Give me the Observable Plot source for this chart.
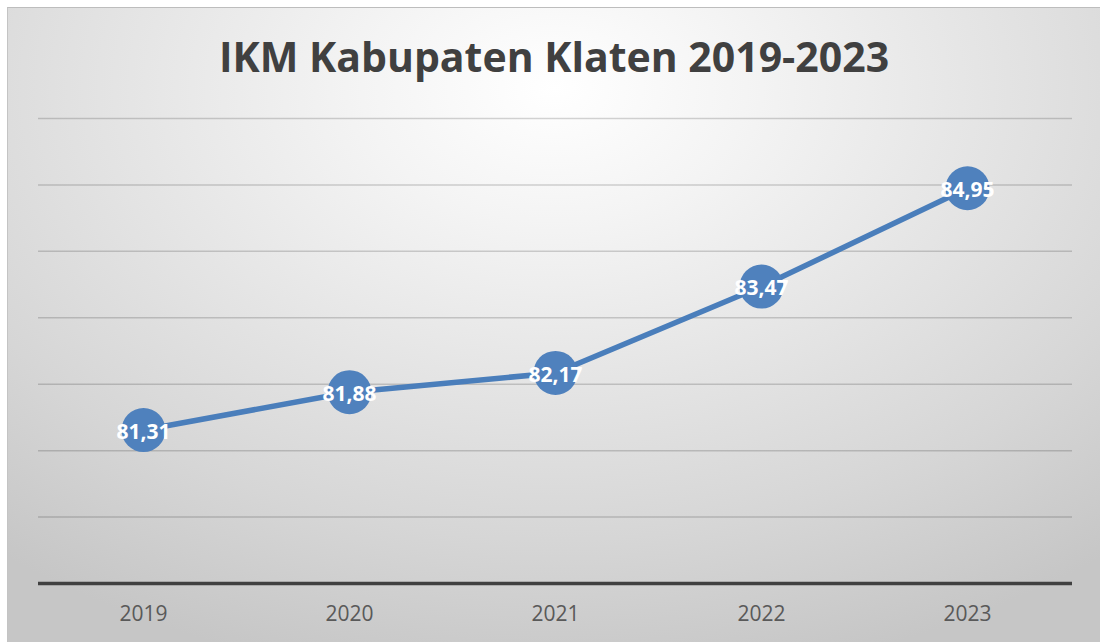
<!DOCTYPE html>
<html>
<head>
<meta charset="utf-8">
<script src="https://cdn.jsdelivr.net/npm/d3@7"></script>
<script src="https://cdn.jsdelivr.net/npm/@observablehq/plot@0.6"></script>
<style>
  html, body { margin: 0; padding: 0; background: #ffffff; width: 1100px; height: 642px; overflow: hidden; }
  #chart {
    position: absolute; left: 7px; top: 7px; width: 1093px; height: 635px;
    box-sizing: border-box;
    border-top: 1px solid #bdbdbd; border-left: 1px solid #c4c4c4;
    background: radial-gradient(ellipse 80% 95% at 546px 80px, #ffffff 0%, #f4f4f4 22%, #d6d6d6 75%, #c6c6c6 100%);
    font-family: "Open Sans", sans-serif;
  }
  #title {
    position: absolute; left: 0; top: 28px; width: 100%; text-align: center;
    font-family: "Open Sans", sans-serif; font-weight: 700; font-size: 41px; line-height: 41px;
    color: #404040;
  }
  #plot { position: absolute; left: -1px; top: 99px; }
</style>
</head>
<body>
<div id="chart">
  <div id="title">IKM Kabupaten Klaten 2019-2023</div>
  <div id="plot"></div>
</div>
<script>
const years = ["2019", "2020", "2021", "2022", "2023"];
const values = [81.31, 81.88, 82.17, 83.47, 84.95];
const valueLabels = ["81,31", "81,88", "82,17", "83,47", "84,95"];
const gridTicks = [80, 81, 82, 83, 84, 85, 86];
const yDomain = [79, 86];

const data = years.map((y, i) => ({year: y, value: values[i], label: valueLabels[i]}));

const chart = Plot.plot({
  width: 1093,
  height: 535,
  marginLeft: 31,
  marginRight: 28,
  marginTop: 11,
  marginBottom: 59,
  style: {background: "transparent", fontFamily: "Open Sans, sans-serif", overflow: "visible"},
  x: {type: "point", domain: years, padding: 0.5, label: null},
  y: {domain: yDomain, axis: null},
  marks: [
    Plot.ruleY(gridTicks, {stroke: "#000000", strokeOpacity: 0.17, strokeWidth: 1.5}),
    Plot.ruleY([yDomain[0]], {stroke: "#404040", strokeWidth: 3.5}),
    Plot.axisX({tickSize: 0, tickPadding: 23, fontSize: 21, label: null, color: "#595959", fill: "#595959"}),
    Plot.line(data, {x: "year", y: "value", stroke: "#4a7ebb", strokeWidth: 5.5}),
    Plot.dot(data, {x: "year", y: "value", r: 22, fill: "#4f81bd", stroke: "none"}),
    Plot.text(data, {x: "year", y: "value", text: "label", fill: "#ffffff", fontSize: 21, fontWeight: "bold", dy: 2})
  ]
});
document.getElementById("plot").appendChild(chart);
</script>
</body>
</html>
